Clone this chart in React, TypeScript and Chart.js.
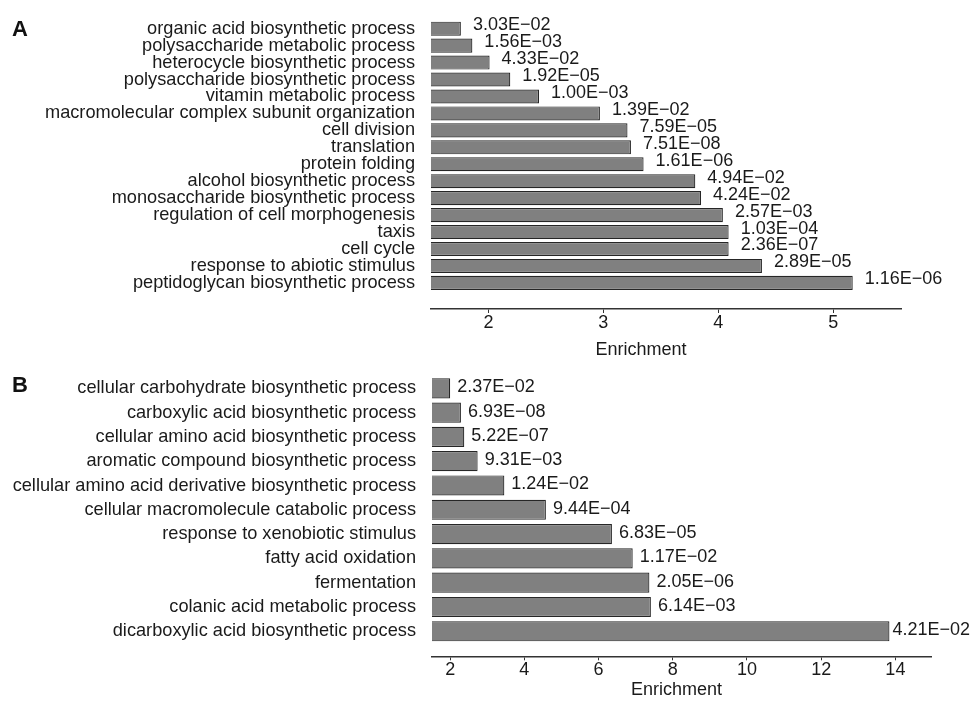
import React, { useEffect, useRef } from 'react';
import { Chart, registerables } from 'chart.js';

Chart.register(...registerables);

// ---------- Panel A data ----------
const CATEGORIES_A = [
  'organic acid biosynthetic process',
  'polysaccharide metabolic process',
  'heterocycle biosynthetic process',
  'polysaccharide biosynthetic process',
  'vitamin metabolic process',
  'macromolecular complex subunit organization',
  'cell division',
  'translation',
  'protein folding',
  'alcohol biosynthetic process',
  'monosaccharide biosynthetic process',
  'regulation of cell morphogenesis',
  'taxis',
  'cell cycle',
  'response to abiotic stimulus',
  'peptidoglycan biosynthetic process',
];
const VALUES_A = [1.76, 1.86, 2.01, 2.19, 2.44, 2.97, 3.21, 3.24, 3.35, 3.8, 3.85, 4.04, 4.09, 4.09, 4.38, 5.17];
const PVALUES_A = [
  '3.03E−02', '1.56E−03', '4.33E−02', '1.92E−05', '1.00E−03', '1.39E−02', '7.59E−05', '7.51E−08',
  '1.61E−06', '4.94E−02', '4.24E−02', '2.57E−03', '1.03E−04', '2.36E−07', '2.89E−05', '1.16E−06',
];
const TICKS_A = [2, 3, 4, 5];
const X_MIN_A = 1.5;
const X_MAX_A = 5.59;

// ---------- Panel B data ----------
const CATEGORIES_B = [
  'cellular carbohydrate biosynthetic process',
  'carboxylic acid biosynthetic process',
  'cellular amino acid biosynthetic process',
  'aromatic compound biosynthetic process',
  'cellular amino acid derivative biosynthetic process',
  'cellular macromolecule catabolic process',
  'response to xenobiotic stimulus',
  'fatty acid oxidation',
  'fermentation',
  'colanic acid metabolic process',
  'dicarboxylic acid biosynthetic process',
];
const VALUES_B = [2.0, 2.29, 2.38, 2.74, 3.46, 4.58, 6.36, 6.92, 7.37, 7.41, 13.84];
const PVALUES_B = [
  '2.37E−02', '6.93E−08', '5.22E−07', '9.31E−03', '1.24E−02', '9.44E−04',
  '6.83E−05', '1.17E−02', '2.05E−06', '6.14E−03', '4.21E−02',
];
const TICKS_B = [2, 4, 6, 8, 10, 12, 14];
const X_MIN_B = 1.51;
const X_MAX_B = 14.96;

const AXIS_TITLE = 'Enrichment';

const FONT = '"Liberation Sans", Arial, Helvetica, sans-serif';
const TEXT = '#1a1a1a';

const valueLabelPlugin = {
  id: 'valueLabels',
  afterDatasetsDraw(chart: any, _args: any, opts: any) {
    const { ctx } = chart;
    const meta = chart.getDatasetMeta(0);
    ctx.save();
    ctx.font = `18px ${FONT}`;
    ctx.fillStyle = TEXT;
    ctx.textBaseline = 'middle';
    ctx.textAlign = 'left';
    meta.data.forEach((bar: any, i: number) => {
      const text = opts.labels[i];
      const w = ctx.measureText(text).width;
      const x = Math.min(bar.x + opts.gap, chart.width - w - 3);
      ctx.fillText(text, x, bar.y + opts.dy);
    });
    ctx.restore();
  },
};

const axisTitlePlugin = {
  id: 'axisTitle',
  afterDraw(chart: any, _args: any, opts: any) {
    const { ctx, chartArea } = chart;
    ctx.save();
    ctx.font = `18px ${FONT}`;
    ctx.fillStyle = TEXT;
    ctx.textAlign = 'center';
    ctx.textBaseline = 'middle';
    ctx.fillText(opts.text, (chartArea.left + chartArea.right) / 2 + opts.dx, chartArea.bottom + opts.dy);
    ctx.restore();
  },
};

interface PanelProps {
  categories: string[];
  values: number[];
  pvalues: string[];
  ticks: number[];
  xMin: number;
  xMax: number;
  extraBottom: number;
  yWidth: number;
  padTop: number;
  padRight: number;
  padBottom: number;
  xHeight: number;
  gap: number;
  dy: number;
  titleDx: number;
  titleDy: number;
  height: number;
  top: number;
}

function Panel(p: PanelProps) {
  const ref = useRef<HTMLCanvasElement>(null);
  useEffect(() => {
    if (!ref.current) return;
    const chart = new Chart(ref.current, {
      type: 'bar',
      data: {
        datasets: [
          {
            data: p.values.map((v, i) => ({ x: v, y: i })) as any,
            backgroundColor: '#808080',
            borderColor: '#262626',
            borderWidth: 1.2,
            borderSkipped: false,
            barPercentage: 0.83,
            categoryPercentage: 1,
          },
        ],
      },
      options: {
        indexAxis: 'y',
        animation: false,
        responsive: false,
        layout: { padding: { top: p.padTop, right: p.padRight, bottom: p.padBottom, left: 0 } },
        plugins: {
          legend: { display: false },
          tooltip: { enabled: false },
          valueLabels: { labels: p.pvalues, gap: p.gap, dy: p.dy },
          axisTitle: { text: AXIS_TITLE, dx: p.titleDx, dy: p.titleDy },
        } as any,
        scales: {
          y: {
            type: 'linear',
            reverse: true,
            offset: false,
            min: -0.5,
            max: p.categories.length - 0.5 + p.extraBottom,
            grid: { display: false, drawTicks: false, offset: false },
            border: { display: false },
            ticks: {
              autoSkip: false,
              padding: 16,
              color: TEXT,
              font: { size: 18.2, family: FONT },
              callback: (v: any) => p.categories[v as number] ?? '',
            },
            afterBuildTicks: (s: any) => {
              s.ticks = p.categories.map((_, i) => ({ value: i }));
            },
            afterFit: (s: any) => {
              s.width = p.yWidth;
              s.paddingTop = 0;
              s.paddingBottom = 0;
            },
          },
          x: {
            type: 'linear',
            min: p.xMin,
            max: p.xMax,
            grid: { display: true, drawOnChartArea: false, drawTicks: true, tickLength: 4, color: '#333', lineWidth: 1 },
            border: { display: true, color: '#333', width: 1.5 },
            ticks: { padding: -1, color: TEXT, font: { size: 18, family: FONT } },
            title: { display: false },
            afterBuildTicks: (s: any) => {
              s.ticks = p.ticks.map((v) => ({ value: v }));
            },
            afterFit: (s: any) => {
              s.height = p.xHeight;
              s.paddingLeft = 0;
              s.paddingRight = 0;
            },
          },
        },
      },
      plugins: [valueLabelPlugin, axisTitlePlugin],
    });
    return () => chart.destroy();
  }, []);
  return (
    <canvas
      ref={ref}
      width={973}
      height={p.height}
      style={{ position: 'absolute', left: 0, top: p.top, width: 973, height: p.height, display: 'block' }}
    />
  );
}

export default function App() {
  const letter: React.CSSProperties = {
    position: 'absolute',
    left: 12,
    fontFamily: FONT,
    fontWeight: 'bold',
    fontSize: 22,
    lineHeight: '22px',
    color: '#111',
  };
  return (
    <div style={{ position: 'fixed', left: 0, top: 0, width: 973, height: 702, background: '#fff', overflow: 'hidden' }}>
      <Panel
        categories={CATEGORIES_A}
        values={VALUES_A}
        pvalues={PVALUES_A}
        ticks={TICKS_A}
        xMin={X_MIN_A}
        xMax={X_MAX_A}
        extraBottom={1.04}
        yWidth={431}
        padTop={20.2}
        padRight={72}
        padBottom={1.2}
        xHeight={49.8}
        gap={12}
        dy={-3.5}
        titleDx={-25}
        titleDy={41}
        height={360}
        top={0}
      />
      <Panel
        categories={CATEGORIES_B}
        values={VALUES_B}
        pvalues={PVALUES_B}
        ticks={TICKS_B}
        xMin={X_MIN_B}
        xMax={X_MAX_B}
        extraBottom={0.53}
        yWidth={432}
        padTop={16.15}
        padRight={42}
        padBottom={1.2}
        xHeight={44.5}
        gap={7}
        dy={-1}
        titleDx={-5}
        titleDy={33.7}
        height={342}
        top={360}
      />
      <div style={{ ...letter, top: 18 }}>A</div>
      <div style={{ ...letter, top: 374 }}>B</div>
    </div>
  );
}
